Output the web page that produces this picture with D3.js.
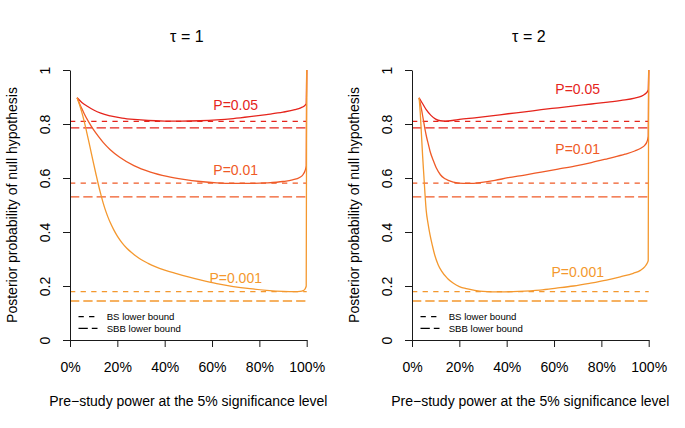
<!DOCTYPE html>
<html><head><meta charset="utf-8">
<script src="https://cdn.jsdelivr.net/npm/d3@7"></script>
<style>
body{margin:0;background:#fff}
text{font-family:"Liberation Sans",Arial,Helvetica,sans-serif}
</style>
</head><body>
<svg id="chart" width="685" height="428"></svg>
<script>
// ---------- data ----------
const panelTitles = ["τ = 1", "τ = 2"];
const pLabels = ["P=0.05", "P=0.01", "P=0.001"];
const seriesColors = ["#E5241C", "#EF5A27", "#F4982E"];
const bsBound = [0.810, 0.581, 0.179];
const sbbBound = [0.786, 0.530, 0.1445];
const xTicks = [0, 0.2, 0.4, 0.6, 0.8, 1];
const yTicks = [0, 0.2, 0.4, 0.6, 0.8, 1];
const yTickLabels = ["0", "0.2", "0.4", "0.6", "0.8", "1"];
const legendLabels = ["BS lower bound", "SBB lower bound"];
const xTitle = "Pre\u2212study power at the 5% significance level";
const yTitle = "Posterior probability of null hypothesis";
const labelPower = 0.70;
const labelValueTau1 = [0.870, 0.629, 0.231];
const labelValueTau2 = [0.928, 0.706, 0.252];

// tau = 1 : [power, posterior probability]
const tau1P05 = [[0.03,0.897],[0.05,0.880],[0.075,0.865],[0.10,0.852],[0.13,0.840],[0.17,0.830],
  [0.22,0.822],[0.27,0.817],[0.33,0.813],[0.40,0.811],[0.47,0.8105],[0.55,0.812],[0.62,0.815],
  [0.69,0.820],[0.76,0.827],[0.83,0.835],[0.90,0.844],[0.95,0.853],[0.975,0.860],[0.99,0.867],
  [0.998,0.875],[1,1]];
const tau1P01 = [[0.03,0.897],[0.04,0.876],[0.05,0.857],[0.06,0.838],[0.08,0.806],[0.10,0.778],
  [0.12,0.754],[0.14,0.732],[0.17,0.705],[0.21,0.677],[0.27,0.646],[0.34,0.622],[0.41,0.606],
  [0.48,0.595],[0.55,0.587],[0.62,0.582],[0.69,0.580],[0.76,0.580],[0.83,0.582],[0.90,0.587],
  [0.94,0.593],[0.97,0.602],[0.985,0.613],[0.993,0.627],[0.998,0.645],[1,1]];
const tau1P001 = [[0.03,0.897],[0.04,0.872],[0.05,0.843],[0.06,0.810],[0.07,0.772],[0.08,0.733],
  [0.09,0.692],[0.10,0.652],[0.11,0.613],[0.12,0.575],[0.13,0.540],[0.14,0.508],[0.15,0.480],
  [0.16,0.456],[0.17,0.435],[0.185,0.408],[0.20,0.385],[0.22,0.360],[0.24,0.340],[0.26,0.324],
  [0.28,0.310],[0.30,0.298],[0.33,0.284],[0.36,0.272],[0.40,0.259],[0.45,0.246],[0.50,0.234],
  [0.55,0.223],[0.62,0.209],[0.69,0.198],[0.76,0.190],[0.83,0.184],[0.90,0.180],[0.95,0.179],
  [0.972,0.180],[0.985,0.183],[0.993,0.189],[0.998,0.200],[1,1]];

// tau = 2
const tau2P05 = [[0.03,0.897],[0.045,0.875],[0.06,0.853],[0.08,0.832],[0.10,0.818],[0.12,0.812],
  [0.14,0.811],[0.17,0.813],[0.20,0.817],[0.265,0.823],[0.335,0.830],[0.406,0.838],[0.476,0.845],
  [0.546,0.853],[0.617,0.860],[0.687,0.867],[0.758,0.874],[0.828,0.881],[0.90,0.889],[0.941,0.896],
  [0.97,0.903],[0.983,0.910],[0.993,0.918],[0.998,0.926],[1,1]];
const tau2P01 = [[0.03,0.897],[0.04,0.855],[0.048,0.815],[0.055,0.780],[0.062,0.750],[0.07,0.722],
  [0.076,0.700],[0.09,0.665],[0.104,0.635],[0.12,0.612],[0.14,0.597],[0.175,0.585],[0.217,0.580],
  [0.25,0.580],[0.287,0.583],[0.35,0.591],[0.406,0.601],[0.476,0.611],[0.546,0.622],[0.617,0.633],
  [0.687,0.644],[0.758,0.657],[0.828,0.672],[0.90,0.688],[0.941,0.700],[0.97,0.712],[0.983,0.721],
  [0.993,0.735],[0.998,0.755],[1,1]];
const tau2P001 = [[0.03,0.897],[0.035,0.840],[0.04,0.760],[0.045,0.680],[0.05,0.610],[0.055,0.540],
  [0.06,0.480],[0.068,0.430],[0.076,0.390],[0.086,0.350],[0.096,0.315],[0.11,0.280],[0.125,0.255],
  [0.15,0.228],[0.175,0.210],[0.20,0.198],[0.23,0.190],[0.265,0.184],[0.30,0.180],[0.37,0.178],
  [0.45,0.180],[0.541,0.185],[0.61,0.192],[0.682,0.200],[0.75,0.210],[0.822,0.222],[0.88,0.234],
  [0.935,0.247],[0.965,0.258],[0.984,0.272],[0.994,0.285],[0.998,0.295],[1,1]];

const panels = [
  {title: panelTitles[0], series: [tau1P05, tau1P01, tau1P001], labelY: labelValueTau1, left: 70},
  {title: panelTitles[1], series: [tau2P05, tau2P01, tau2P001], labelY: labelValueTau2, left: 412}
];

// ---------- drawing ----------
const svg = d3.select("#chart");
svg.append("rect").attr("width", 685).attr("height", 428).attr("fill", "#fff");
const plotW = 236.7, plotTop = 70, plotBottom = 340;
const y = d3.scaleLinear().domain([0, 1]).range([plotBottom, plotTop]);
const shortDash = "5.3,5.3", longDash = "9.3,4";

panels.forEach((pan, pi) => {
  const x = d3.scaleLinear().domain([0, 1]).range([pan.left, pan.left + plotW]);
  const g = svg.append("g");

  // bounds
  pan.series.forEach((s, i) => {
    g.append("line").attr("x1", x(0)).attr("x2", x(1)).attr("y1", y(bsBound[i])).attr("y2", y(bsBound[i]))
      .attr("stroke", seriesColors[i]).attr("stroke-width", 1.3).attr("stroke-dasharray", shortDash);
    g.append("line").attr("x1", x(0)).attr("x2", x(1)).attr("y1", y(sbbBound[i])).attr("y2", y(sbbBound[i]))
      .attr("stroke", seriesColors[i]).attr("stroke-width", 1.3).attr("stroke-dasharray", longDash);
  });

  // curves
  const line = d3.line().x(d => x(d[0])).y(d => y(d[1])).curve(d3.curveMonotoneX);
  pan.series.forEach((s, i) => {
    g.append("path").datum(s).attr("d", line).attr("fill", "none")
      .attr("stroke", seriesColors[i]).attr("stroke-width", 1.3);
  });

  // labels
  pan.series.forEach((s, i) => {
    g.append("text").attr("x", x(labelPower)).attr("y", y(pan.labelY[i]) + 5)
      .attr("text-anchor", "middle").attr("font-size", 14).attr("fill", seriesColors[i]).text(pLabels[i]);
  });

  // x axis
  const xa = g.append("g").attr("transform", `translate(0,${plotBottom})`)
    .call(d3.axisBottom(x).tickValues(xTicks).tickSize(7).tickSizeOuter(0).tickFormat(d3.format(".0%")));
  xa.selectAll("line, path").attr("stroke", "#1a1a1a");
  xa.selectAll("text").attr("y", 31.7).attr("dy", null).attr("font-size", 14).attr("fill", "#000")
    .style("font-family", "'Liberation Sans', Arial, sans-serif");

  // y axis
  const ya = g.append("g").attr("transform", `translate(${pan.left},0)`)
    .call(d3.axisLeft(y).tickValues(yTicks).tickSize(7).tickSizeOuter(0).tickFormat((d, k) => yTickLabels[k]));
  ya.selectAll("line, path").attr("stroke", "#1a1a1a");
  ya.selectAll("text").attr("transform", "rotate(-90)").attr("x", 0).attr("y", -20).attr("dy", null)
    .attr("text-anchor", "middle").attr("font-size", 14).attr("fill", "#000")
    .style("font-family", "'Liberation Sans', Arial, sans-serif");

  // titles
  const cx = pan.left + plotW / 2;
  g.append("text").attr("x", cx - 1.5).attr("y", 41.5).attr("text-anchor", "middle")
    .attr("font-size", 16).text(pan.title);
  g.append("text").attr("x", cx).attr("y", 405.5).attr("text-anchor", "middle")
    .attr("font-size", 14).text(xTitle);
  g.append("text").attr("transform", `translate(${pan.left - 53.5},${(plotTop + plotBottom) / 2}) rotate(-90)`)
    .attr("text-anchor", "middle").attr("font-size", 14).text(yTitle);

  // legend
  const lx = pan.left + 8.5;
  [shortDash, longDash].forEach((dash, k) => {
    const ly = 316.7 + k * 11.6;
    g.append("line").attr("x1", lx).attr("x2", lx + 19).attr("y1", ly).attr("y2", ly)
      .attr("stroke", "#000").attr("stroke-width", 1.2).attr("stroke-dasharray", dash);
    g.append("text").attr("x", pan.left + 36.7).attr("y", ly + 3.5).attr("font-size", 9.6)
      .text(legendLabels[k]);
  });
});
</script>
</body></html>
